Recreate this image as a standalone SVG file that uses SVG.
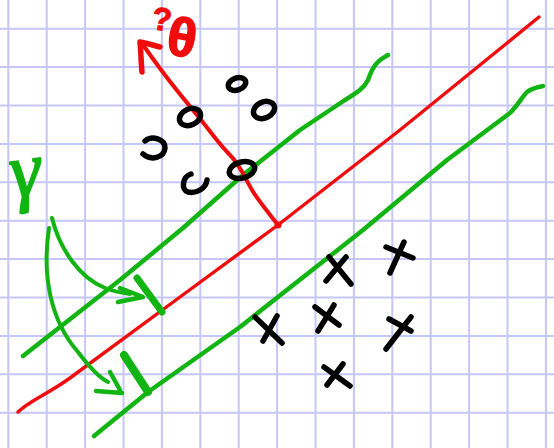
<svg xmlns="http://www.w3.org/2000/svg" width="554" height="448" viewBox="0 0 554 448">
<defs>
<style>
.grid line{stroke:#c6c6fa;stroke-width:2}
.red{fill:none;stroke:#f00c0c;stroke-linecap:round;stroke-linejoin:round}
.green{fill:none;stroke:#12b412;stroke-linecap:round;stroke-linejoin:round}
.o{fill:none;stroke:#000;stroke-width:5.5;stroke-linecap:round}
.x{fill:none;stroke:#000;stroke-width:5.5;stroke-linecap:round}
</style>
</defs>
<rect width="554" height="448" fill="#fff"/>
<g class="grid">
<line x1="8.3" y1="0" x2="8.3" y2="448"/><line x1="46.7" y1="0" x2="46.7" y2="448"/><line x1="85.1" y1="0" x2="85.1" y2="448"/><line x1="123.5" y1="0" x2="123.5" y2="448"/><line x1="161.9" y1="0" x2="161.9" y2="448"/><line x1="200.3" y1="0" x2="200.3" y2="448"/><line x1="238.7" y1="0" x2="238.7" y2="448"/><line x1="277.1" y1="0" x2="277.1" y2="448"/><line x1="315.5" y1="0" x2="315.5" y2="448"/><line x1="353.9" y1="0" x2="353.9" y2="448"/><line x1="392.3" y1="0" x2="392.3" y2="448"/><line x1="430.7" y1="0" x2="430.7" y2="448"/><line x1="469.1" y1="0" x2="469.1" y2="448"/><line x1="507.5" y1="0" x2="507.5" y2="448"/><line x1="545.9" y1="0" x2="545.9" y2="448"/>
<line x1="0" y1="28.7" x2="554" y2="28.7"/><line x1="0" y1="67.1" x2="554" y2="67.1"/><line x1="0" y1="105.5" x2="554" y2="105.5"/><line x1="0" y1="143.9" x2="554" y2="143.9"/><line x1="0" y1="182.3" x2="554" y2="182.3"/><line x1="0" y1="220.7" x2="554" y2="220.7"/><line x1="0" y1="259.1" x2="554" y2="259.1"/><line x1="0" y1="297.5" x2="554" y2="297.5"/><line x1="0" y1="335.9" x2="554" y2="335.9"/><line x1="0" y1="374.3" x2="554" y2="374.3"/><line x1="0" y1="412.7" x2="554" y2="412.7"/>
</g>
<g id="lines">
<path class="red" stroke-width="3.4" d="M18,412 C30,400 45,396 70,378 L180,297 L278,225 L400,130 L539,17"/>
<path class="green" stroke-width="4.5" d="M23,356 L120,280 L183,228 L243,175 L300,130 L345,100 C358,92 364,88 368,80 C374,62 380,60 388,55"/>
<path class="green" stroke-width="4.5" d="M94,436 L148,392 L240,327 L363,230 L447,160 L510,113 C518,105 522,97 527,92 C532,88 538,87 543,86"/>
</g>
<g id="normal">
<path class="red" stroke-width="4" d="M278,225 C268,212 258,200 252,190 C245,178 240,165 230,155 C220,145 213,135 205,125 C195,112 180,95 165,75 C155,62 148,52 141,42"/>
<path class="red" stroke-width="5.5" d="M142,72 C141,62 141,52 140,42 C146,43 153,45 160,47"/>
<circle cx="278" cy="225" r="3.5" fill="#f00c0c"/>
<text x="152" y="30" font-family="Liberation Sans, sans-serif" font-size="32" font-weight="bold" fill="#f00c0c" stroke="#f00c0c" stroke-width="1" transform="rotate(8 160 20)">?</text>
<text x="182" y="56" font-family="Liberation Sans, sans-serif" font-size="54" font-weight="bold" fill="#f00c0c" stroke="#f00c0c" stroke-width="1.5" text-anchor="middle" transform="rotate(10 182 38)">θ</text>
</g>
<g id="circles">
<ellipse class="o" cx="237" cy="84" rx="9" ry="6" transform="rotate(-20 237 84)"/>
<ellipse class="o" cx="264" cy="110" rx="11" ry="8" transform="rotate(-25 264 110)"/>
<ellipse class="o" cx="190" cy="117" rx="11" ry="8" transform="rotate(-25 190 117)"/>
<path class="o" d="M145,141 C152,135 165,139 165,148 C164,158 151,161 143,154"/>
<path class="o" d="M191,174 C182,177 181,190 188,192 C197,194 206,188 207,180"/>
<ellipse class="o" cx="242" cy="170" rx="13" ry="8" transform="rotate(-15 242 170)"/>
</g>
<g id="crosses">
<path class="x" d="M329,257 L351,284 M346,257 L326,281"/>
<path class="x" d="M386,247 L413,258 M404,242 L390,273"/>
<path class="x" d="M255,317 L282,343 M277,316 L263,341"/>
<path class="x" d="M315,307 L339,325 M334,305 L318,331"/>
<path class="x" d="M389,319 L411,331 M411,317 L386,349"/>
<path class="x" d="M324,367 L350,386 M343,364 L327,385"/>
</g>
<g id="gamma">
<text x="27" y="196" font-family="Liberation Serif, serif" font-style="italic" font-size="78" fill="#12b412" stroke="#12b412" stroke-width="1.8" text-anchor="middle" transform="rotate(-8 27 185)">γ</text>
</g>
<g id="margin-arrows">
<path class="green" stroke-width="4" d="M52,218 C60,250 80,278 105,288 C115,292 123,293 130,294"/>
<path class="green" stroke-width="4.5" d="M120,288 L143,297 L118,302"/>
<path class="green" stroke-width="7" d="M137,278 L162,312"/>
<path class="green" stroke-width="4" d="M49,228 C42,275 50,320 78,352 C90,368 100,378 108,382"/>
<path class="green" stroke-width="4.5" d="M110,372 L120,390 M96,391 L122,393"/>
<path class="green" stroke-width="8" d="M124,355 L148,392"/>
</g>
</svg>
